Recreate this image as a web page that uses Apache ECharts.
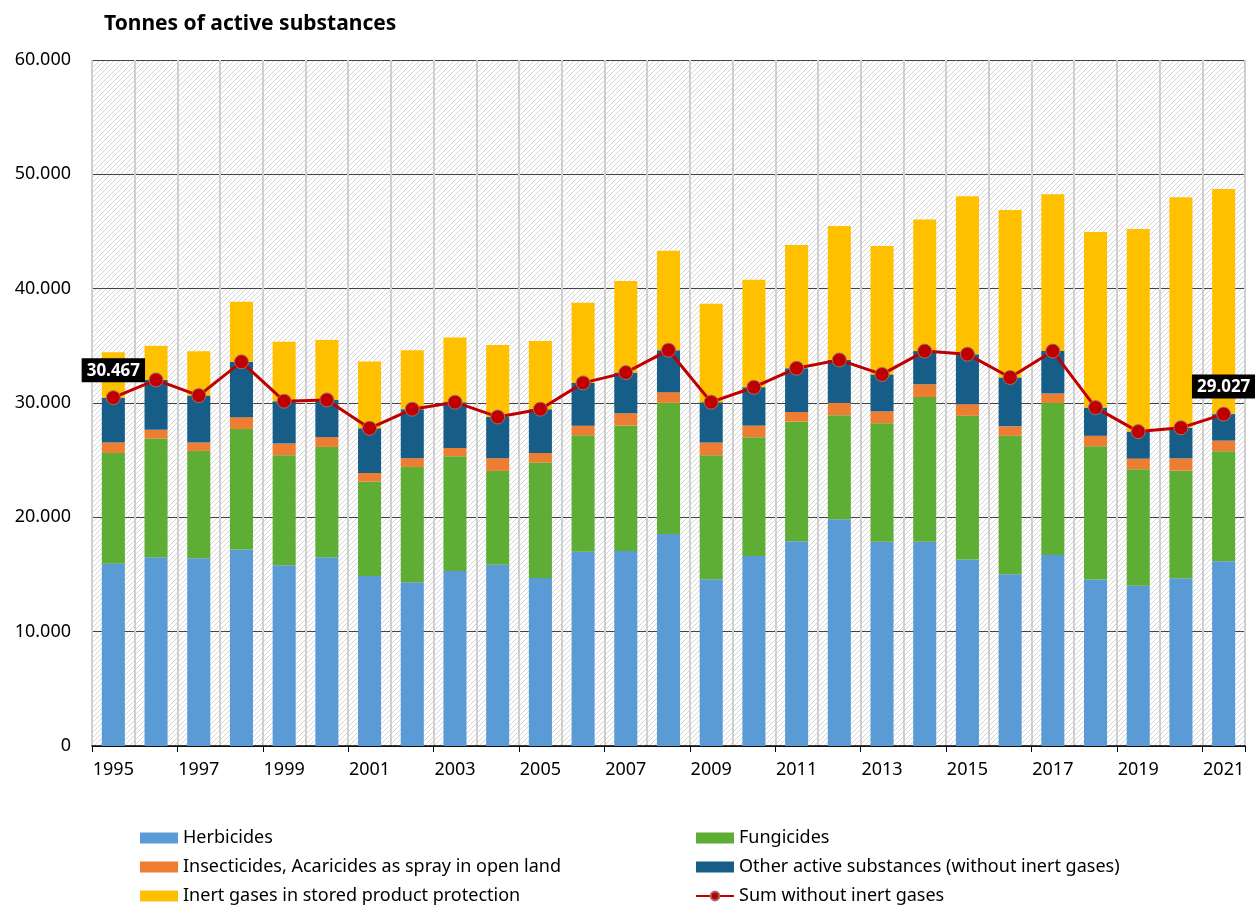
<!DOCTYPE html>
<html>
<head>
<meta charset="utf-8">
<script src="https://cdn.jsdelivr.net/npm/echarts@6/dist/echarts.min.js"></script>
<style>
  html, body { margin: 0; padding: 0; background: #fff; }
  #chart { width: 1255px; height: 908px; }
</style>
</head>
<body>
<div id="chart"></div>
<script>
const years = ['1995', '1996', '1997', '1998', '1999', '2000', '2001', '2002', '2003', '2004', '2005', '2006', '2007', '2008',
  '2009', '2010', '2011', '2012', '2013', '2014', '2015', '2016', '2017', '2018', '2019', '2020', '2021']

const herbicides = [15950, 16510, 16420, 17180, 15810, 16510, 14870, 14320, 15310, 15860, 14700, 17000, 17060, 18550,
  14580, 16620, 17910, 19830, 17860, 17860, 16310, 15030, 16710, 14570, 14010, 14670, 16150]
const fungicides = [9680, 10380, 9390, 10550, 9620, 9650, 8250, 10090, 10040, 8200, 10090, 10180, 10960, 11460,
  10850, 10390, 10460, 9100, 10360, 12660, 12570, 12100, 13290, 11640, 10200, 9410, 9640]
const insecticides = [910, 760, 730, 1030, 1020, 850, 760, 760, 720, 1110, 840, 840, 1080, 940,
  1110, 1010, 850, 1080, 1050, 1120, 1020, 830, 820, 920, 920, 1080, 920]
const others = [3927, 4370, 4110, 4840, 3710, 3260, 3910, 4290, 4000, 3610, 3830, 3740, 3560, 3670,
  3530, 3360, 3820, 3760, 3230, 2900, 4370, 4270, 3720, 2470, 2370, 2670, 2317]
const inertGases = [3980, 2980, 3880, 5250, 5190, 5250, 5830, 5160, 5650, 6300, 5970, 7000, 8020, 8690,
  8600, 9390, 10790, 11720, 11240, 11510, 13820, 14640, 13710, 15360, 17720, 20160, 19680]
const sumNoInert = [30467, 32020, 30650, 33600, 30160, 30270, 27790, 29460, 30070, 28780, 29460, 31760, 32660, 34620,
  30070, 31380, 33040, 33770, 32500, 34540, 34270, 32230, 34540, 29600, 27500, 27830, 29027]

const yTicks = [0, 10000, 20000, 30000, 40000, 50000, 60000]

function fmt(v) {
  return String(v).replace(/\B(?=(\d{3})+(?!\d))/g, '.')
}

// hatched plot background
const tile = document.createElement('canvas')
tile.width = 5
tile.height = 5
const ctx = tile.getContext('2d')
ctx.fillStyle = '#ffffff'
ctx.fillRect(0, 0, 5, 5)
ctx.strokeStyle = '#d6d6d6'
ctx.lineWidth = 1
ctx.beginPath()
ctx.moveTo(-1, 6); ctx.lineTo(6, -1)
ctx.moveTo(-1, 1); ctx.lineTo(1, -1)
ctx.moveTo(4, 6); ctx.lineTo(6, 4)
ctx.stroke()

const font = 'Noto Sans'
const legendText = { fontFamily: font, fontSize: 18, color: '#000', lineHeight: 18 }

function barSeries(name, data, color) {
  return {
    name: name,
    type: 'bar',
    stack: 'total',
    barWidth: '54%',
    itemStyle: { color: color },
    data: data
  }
}

const labelStyle = {
  show: true,
  position: 'top',
  distance: 8,
  formatter: p => fmt(p.value),
  color: '#fff',
  backgroundColor: '#000',
  fontFamily: font,
  fontWeight: 'bold',
  fontSize: 17,
  padding: [4, 5, 3, 5]
}

const sumData = sumNoInert.map((v, i) => {
  if (i === 0 || i === sumNoInert.length - 1) return { value: v, label: labelStyle }
  return v
})

function legendBlock(left, names) {
  return {
    orient: 'vertical',
    left: left,
    top: 829,
    padding: 0,
    itemWidth: 38,
    itemHeight: 11,
    itemGap: 11,
    textStyle: legendText,
    data: names.map(n => n === 'Sum without inert gases' ? n : { name: n, icon: 'rect' })
  }
}

const chart = echarts.init(document.getElementById('chart'))
chart.setOption({
  animation: false,
  title: {
    text: 'Tonnes of active substances',
    left: 99,
    top: 9,
    textStyle: { fontFamily: font, fontSize: 21, fontWeight: 'bold', color: '#000' }
  },
  grid: {
    left: 92,
    right: 10,
    top: 60,
    bottom: 162,
    show: true,
    borderWidth: 0,
    backgroundColor: { image: tile, repeat: 'repeat' }
  },
  legend: [
    legendBlock(140, ['Herbicides', 'Insecticides, Acaricides as spray in open land', 'Inert gases in stored product protection']),
    legendBlock(695, ['Fungicides', 'Other active substances (without inert gases)', 'Sum without inert gases'])
  ],
  xAxis: {
    type: 'category',
    data: years,
    axisLine: { lineStyle: { color: '#000', width: 1.5 } },
    axisTick: { show: true, length: 6, lineStyle: { color: '#000' } },
    axisLabel: { interval: 1, fontFamily: font, fontSize: 18, color: '#000', margin: 15 },
    splitLine: { show: true, interval: 0, lineStyle: { color: '#cfcfcf', width: 2 } }
  },
  yAxis: {
    type: 'value',
    min: yTicks[0],
    max: yTicks[yTicks.length - 1],
    interval: 10000,
    axisLine: { show: false },
    axisTick: { show: false },
    axisLabel: { formatter: fmt, fontFamily: font, fontSize: 18, color: '#000', margin: 21 },
    splitLine: { lineStyle: { color: '#444', width: 1 } }
  },
  series: [
    barSeries('Herbicides', herbicides, '#5B9BD5'),
    barSeries('Fungicides', fungicides, '#5EAD35'),
    barSeries('Insecticides, Acaricides as spray in open land', insecticides, '#ED7D31'),
    barSeries('Other active substances (without inert gases)', others, '#165E87'),
    barSeries('Inert gases in stored product protection', inertGases, '#FFC000'),
    {
      name: 'Sum without inert gases',
      type: 'line',
      data: sumData,
      symbol: 'circle',
      symbolSize: 14,
      lineStyle: { color: '#C00000', width: 3 },
      itemStyle: { color: '#C00000', borderColor: '#a07070', borderWidth: 1 },
      z: 5
    }
  ]
})
</script>
</body>
</html>
